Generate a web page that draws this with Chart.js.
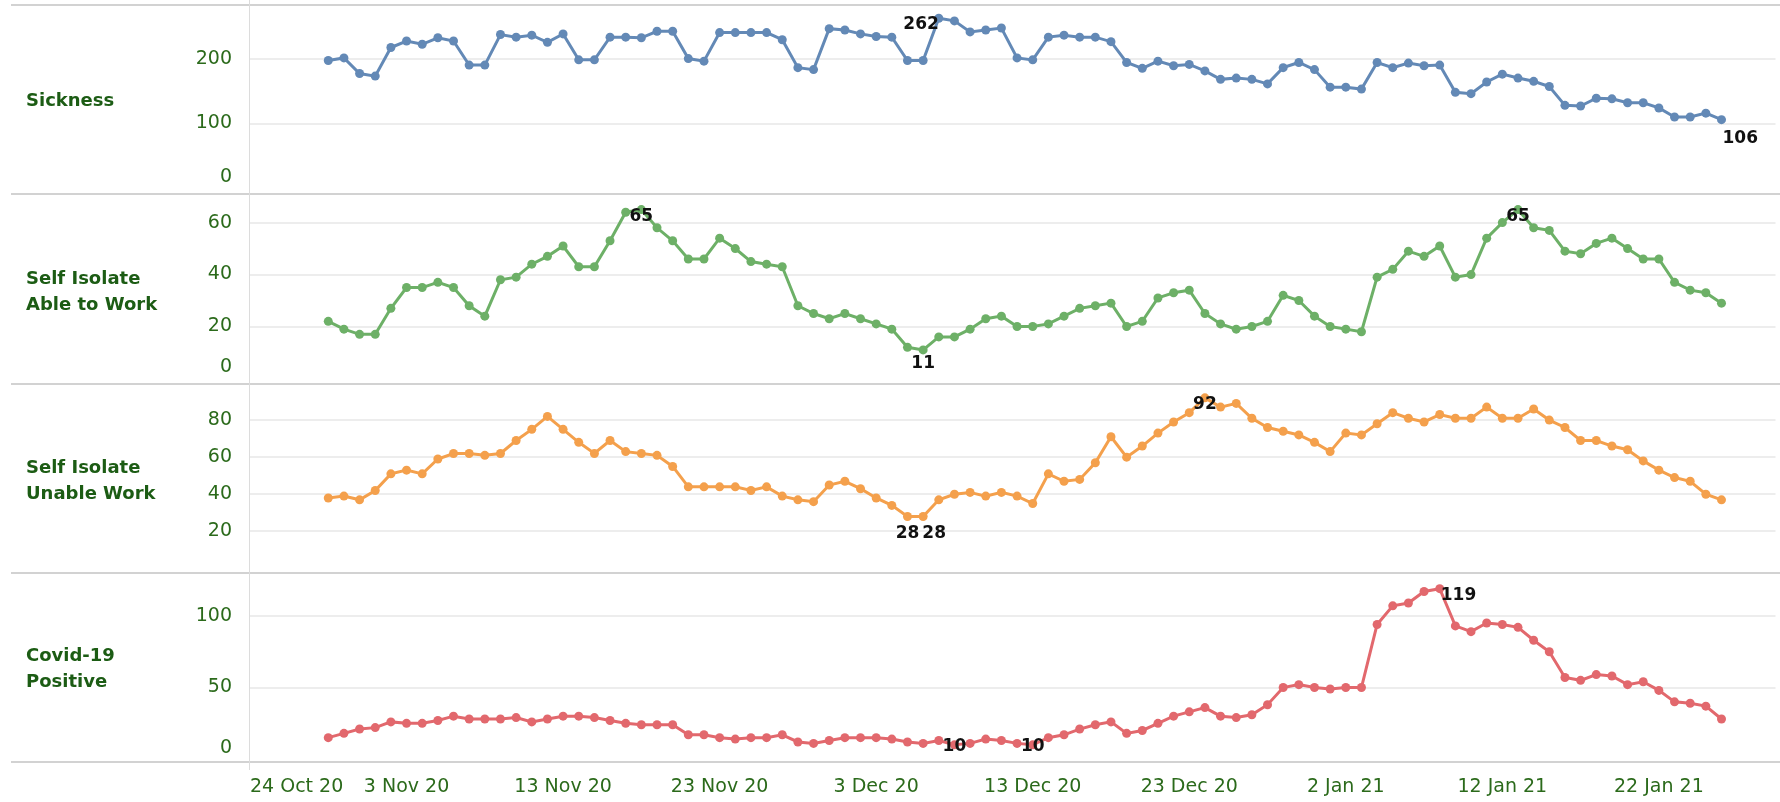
<!DOCTYPE html>
<html>
<head>
<meta charset="utf-8">
<title>Absence reasons by day</title>
<script src="https://cdn.jsdelivr.net/npm/chart.js@4.4.1/dist/chart.umd.min.js"></script>
<style>
  html, body { margin:0; padding:0; background:#ffffff; }
  #wrap { position:relative; width:1780px; height:802px; overflow:hidden; background:#fff; }
  canvas { position:absolute; left:0; }
  .lbl { position:absolute; left:26px; font-family:"DejaVu Sans", sans-serif; font-weight:bold; font-size:18px; line-height:26px; color:#1c5c14; white-space:nowrap; z-index:3; }
  .hsep { position:absolute; left:11px; width:1769px; height:2px; background:#d2d2d2; z-index:2; }
  .vsep { position:absolute; left:249px; top:0; width:1px; height:770px; background:#dcdcdc; z-index:2; }
</style>
</head>
<body>
<div id="wrap">
  <canvas id="c0" width="1780" height="187" style="top:6px"></canvas>
  <canvas id="c1" width="1780" height="187" style="top:196px"></canvas>
  <canvas id="c2" width="1780" height="187" style="top:385px"></canvas>
  <canvas id="c3" width="1780" height="228" style="top:574px"></canvas>
  <div class="hsep" style="top:4px"></div>
  <div class="hsep" style="top:193px"></div>
  <div class="hsep" style="top:383px"></div>
  <div class="hsep" style="top:572px"></div>
  <div class="hsep" style="top:761px"></div>
  <div class="vsep"></div>
  <div class="lbl" style="top:87px">Sickness</div>
  <div class="lbl" style="top:265px">Self Isolate<br>Able to Work</div>
  <div class="lbl" style="top:454px">Self Isolate<br>Unable Work</div>
  <div class="lbl" style="top:642px">Covid-19<br>Positive</div>
</div>
<script>
// ---------------- DATA ----------------
const axisStartDate = '2020-10-24';
const firstDataDate = '2020-10-29';
const axisEndDays = 97.45;

const tickDates  = ['2020-10-24','2020-11-03','2020-11-13','2020-11-23','2020-12-03','2020-12-13','2020-12-23','2021-01-02','2021-01-12','2021-01-22'];
const tickLabels = ['24 Oct 20','3 Nov 20','13 Nov 20','23 Nov 20','3 Dec 20','13 Dec 20','23 Dec 20','2 Jan 21','12 Jan 21','22 Jan 21'];

const sickness = [197,201,177,173,217,227,222,232,227,190,
                  190,237,233,236,225,238,198,198,233,233,
                  232,242,242,200,196,240,240,240,240,229,
                  186,183,246,244,238,234,233,197,197,262,
                  258,241,244,247,201,198,233,236,233,233,
                  226,194,185,196,189,191,181,168,170,168,
                  161,186,194,183,156,156,153,194,186,193,
                  189,190,148,146,164,176,170,165,157,128,
                  127,139,138,132,132,124,110,110,116,106];

const selfIsolateAble = [22,19,17,17,27,35,35,37,35,28,
                         24,38,39,44,47,51,43,43,53,64,
                         65,58,53,46,46,54,50,45,44,43,
                         28,25,23,25,23,21,19,12,11,16,
                         16,19,23,24,20,20,21,24,27,28,
                         29,20,22,31,33,34,25,21,19,20,
                         22,32,30,24,20,19,18,39,42,49,
                         47,51,39,40,54,60,65,58,57,49,
                         48,52,54,50,46,46,37,34,33,29];

const selfIsolateUnable = [38,39,37,42,51,53,51,59,62,62,
                           61,62,69,75,82,75,68,62,69,63,
                           62,61,55,44,44,44,44,42,44,39,
                           37,36,45,47,43,38,34,28,28,37,
                           40,41,39,41,39,35,51,47,48,57,
                           71,60,66,73,79,84,92,87,89,81,
                           76,74,72,68,63,73,72,78,84,81,
                           79,83,81,81,87,81,81,86,80,76,
                           69,69,66,64,58,53,49,47,40,37];

const covidPositive = [15,18,21,22,26,25,25,27,30,28,
                       28,28,29,26,28,30,30,29,27,25,
                       24,24,24,17,17,15,14,15,15,17,
                       12,11,13,15,15,15,14,12,11,13,
                       10,11,14,13,11,10,15,17,21,24,
                       26,18,20,25,30,33,36,30,29,31,
                       38,50,52,50,49,50,50,94,107,109,
                       117,119,93,89,95,94,92,83,75,57,
                       55,59,58,52,54,48,40,39,37,28];

const sicknessTicks = [0,100,200];
const ableTicks     = [0,20,40,60];
const unableTicks   = [20,40,60,80];
const covidTicks    = [0,50,100];

// ---------------- HELPERS ----------------
const DAY = 86400000;
const toDay = s => (Date.parse(s + 'T00:00:00Z') - Date.parse(axisStartDate + 'T00:00:00Z')) / DAY;
const firstX = toDay(firstDataDate);
const xTickValues = tickDates.map(toDay).concat([axisEndDays]);
const xTickText = tickLabels.concat(['']);

const FONT = '"DejaVu Sans", sans-serif';
const TEXT_GREEN = '#2b6a1b';

const pointLabelPlugin = {
  id: 'pointLabels',
  afterDatasetsDraw(chart, args, opts) {
    const items = (opts && opts.items) || [];
    const meta = chart.getDatasetMeta(0);
    const ds = chart.data.datasets[0];
    const ctx = chart.ctx;
    ctx.save();
    ctx.font = 'bold 17px ' + FONT;
    ctx.fillStyle = '#111111';
    ctx.textBaseline = 'middle';
    items.forEach(it => {
      const el = meta.data[it.i];
      if (!el) return;
      ctx.textAlign = it.align;
      ctx.fillText(String(ds.data[it.i].y), el.x + (it.dx || 0), el.y + (it.dy || 0));
    });
    ctx.restore();
  }
};

function makeChart(id, values, color, yMin, yMax, yTicks, labelItems, showX) {
  return new Chart(document.getElementById(id), {
    type: 'line',
    data: {
      datasets: [{
        data: values.map((v, i) => ({ x: firstX + i, y: v })),
        borderColor: color,
        backgroundColor: color,
        pointBackgroundColor: color,
        borderWidth: 3,
        pointRadius: 4.5,
        pointHoverRadius: 4.5,
        pointBorderWidth: 0,
        tension: 0,
        fill: false
      }]
    },
    options: {
      responsive: false,
      animation: false,
      devicePixelRatio: 1,
      events: [],
      layout: { padding: 0 },
      plugins: {
        legend: { display: false },
        tooltip: { enabled: false },
        pointLabels: { items: labelItems }
      },
      scales: {
        x: {
          type: 'linear',
          min: 0,
          max: axisEndDays,
          display: showX,
          grid: { display: false, drawTicks: false },
          border: { display: false },
          afterBuildTicks: s => { s.ticks = xTickValues.map(v => ({ value: v })); },
          afterFit: s => { s.height = showX ? 41 : 0; s.paddingLeft = 0; s.paddingRight = 0; },
          ticks: {
            autoSkip: false,
            maxRotation: 0,
            minRotation: 0,
            align: 'inner',
            padding: 15,
            color: TEXT_GREEN,
            font: { family: FONT, size: 19 },
            callback: (v, i) => xTickText[i]
          }
        },
        y: {
          type: 'linear',
          min: yMin,
          max: yMax,
          afterBuildTicks: s => { s.ticks = yTicks.map(v => ({ value: v })); },
          afterFit: s => { s.width = 250; s.paddingTop = 0; s.paddingBottom = 0; },
          grid: {
            drawTicks: false,
            lineWidth: 2,
            color: c => (c.tick && c.tick.value === 0) ? 'rgba(0,0,0,0)' : '#ededed'
          },
          border: { display: false },
          ticks: {
            autoSkip: false,
            padding: 18,
            color: TEXT_GREEN,
            font: { family: FONT, size: 19 },
            callback: v => v === 0 ? ['0', ''] : String(v)
          }
        }
      }
    },
    plugins: [pointLabelPlugin]
  });
}

makeChart('c0', sickness, '#6389b6', 0, 274, sicknessTicks,
  [{ i: 39, align: 'right', dx: 0, dy: 6 }, { i: 89, align: 'left', dx: 1, dy: 19 }], false);
makeChart('c1', selfIsolateAble, '#6db067', 0, 68.5, ableTicks,
  [{ i: 20, align: 'center', dy: 7 }, { i: 38, align: 'center', dy: 14 }, { i: 76, align: 'center', dy: 7 }], false);
makeChart('c2', selfIsolateUnable, '#f4a04c', 0.5, 96.5, unableTicks,
  [{ i: 37, align: 'center', dy: 17 }, { i: 38, align: 'center', dx: 11, dy: 17 }, { i: 56, align: 'center', dy: 7 }], false);
makeChart('c3', covidPositive, '#e2686d', -1.3, 126.1, covidTicks,
  [{ i: 40, align: 'center', dy: 2 }, { i: 45, align: 'center', dy: 2 }, { i: 71, align: 'left', dx: 1, dy: 7 }], true);
</script>
</body>
</html>
